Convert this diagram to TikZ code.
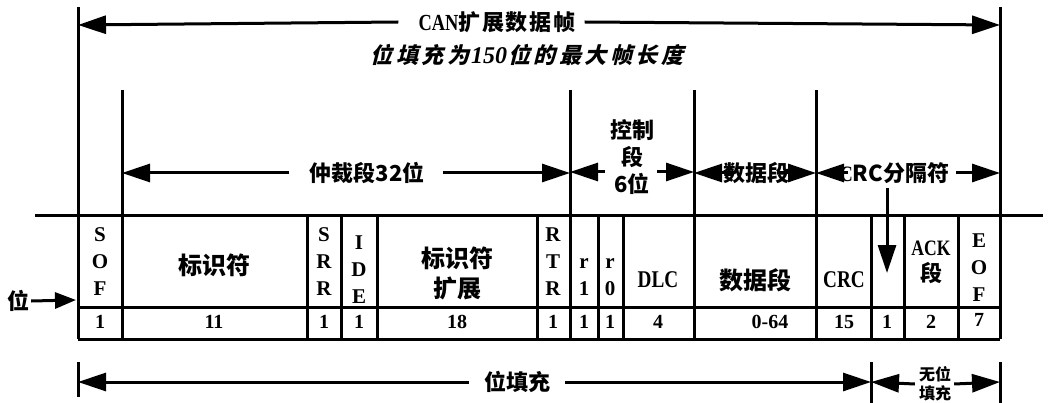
\documentclass[tikz,border=0pt]{standalone}
\usepackage{fontspec}
\setmainfont{Liberation Serif}
\newfontfamily\cjk{Noto Sans CJK SC}
\newfontfamily\cjksl{Noto Sans CJK SC}[FakeSlant=0.25, LetterSpace=16]
\newfontfamily\cjksp{Noto Sans CJK SC}[LetterSpace=8]
\newfontfamily\cond{Liberation Serif}[FakeStretch=0.8]
\usetikzlibrary{arrows.meta}
\tikzset{
  ln/.style={line width=3pt},
  arr/.style={ln, -{Triangle[length=28pt,width=18pt]}},
  smallarr/.style={ln, -{Triangle[length=21pt,width=16pt]}},
  zh/.style={font=\cjk\bfseries\fontsize{22}{27}\selectfont, inner sep=0pt, align=center},
  zhc/.style={font=\cjk\bfseries\fontsize{24}{30}\selectfont, inner sep=0pt, align=center},
  ttl/.style={font=\cjksp\bfseries\fontsize{22}{24}\selectfont, inner sep=0pt},
  sub/.style={font=\cjksl\bfseries\fontsize{22}{24}\selectfont, inner sep=0pt},
  vl/.style={font=\bfseries\fontsize{21}{27}\selectfont, inner sep=0pt, align=center},
  num/.style={font=\bfseries\fontsize{20}{20}\selectfont, inner sep=0pt},
  cd/.style={font=\cond\bfseries\fontsize{24}{24}\selectfont, inner sep=0pt},
  small/.style={font=\cjk\bfseries\fontsize{16}{19}\selectfont, inner sep=0pt, align=center},
}
\begin{document}
\begin{tikzpicture}[x=1pt,y=-1pt]
\useasboundingbox (0,0) rectangle (1048,403);
% ---------- frame lines ----------
\draw[ln] (35,216) -- (1043,216);
\draw[ln] (78,307) -- (1000,307);
\draw[ln] (78,339) -- (1000,339);
\draw[ln] (78,7) -- (78,339);
\draw[ln] (1000,7) -- (1000,339);
\draw[ln] (122,90) -- (122,339);
\foreach \xx in {570,694,816} \draw[ln] (\xx,90) -- (\xx,339);
\foreach \xx in {307,341,377,537,598,623,871,904,958} \draw[ln] (\xx,216) -- (\xx,339);
% ---------- title ----------
\node[ttl] (title) at (497,22) {{\cond\fontsize{23}{24}\selectfont CAN}扩展数据帧};
\node[sub] (subt) at (527,55) {位填充为{\rmfamily\bfseries\itshape\fontsize{24}{24}\selectfont\kern2pt 150\kern1pt}位的最大帧长度};
\coordinate (tl) at (78,25);
\coordinate (tr) at (1000,25);
\draw[arr] ([xshift=-20pt]title.west) -- (tl);
\draw[arr] ([xshift=9pt]title.east) -- (tr);
% ---------- section headers ----------
\node[zh] (arb) at (367,173) {仲裁段32位};
\coordinate (arbl) at (122,173);
\coordinate (arbr) at (570,173);
\draw[arr] ([xshift=-20pt]arb.west) -- (arbl);
\draw[arr] ([xshift=18pt]arb.east) -- (arbr);

\node[zh] (ctl) at (632,157) {控制\\段\\6位};
\coordinate (ctll) at (570,172);
\coordinate (ctlr) at (694,172);
\coordinate (ctla) at (605,172);
\coordinate (ctlb) at (657,172);
\draw[arr] (ctla) -- (ctll);
\draw[arr] (ctlb) -- (ctlr);

\node[zh] (dat) at (756,173) {数据段};
\coordinate (datl) at (694,173);
\coordinate (datr) at (816,173);
\draw[arr] ([xshift=12pt]dat.west) -- (datl);
\draw[arr] ([xshift=-12pt]dat.east) -- (datr);

\node[zh,anchor=west] (crcd) at (840,173) {{\cond C}RC分隔符};
\coordinate (crcl) at (816,173);
\coordinate (crcr) at (1000,173);
\draw[arr] ([xshift=8pt]crcd.west) -- (crcl);
\draw[arr] ([xshift=7pt]crcd.east) -- (crcr);
\coordinate (dtop) at (887,188);
\coordinate (dtip) at (887,273);
\draw[arr] (dtop) -- (dtip);
% ---------- field labels ----------
\node[vl] (sof) at (100,262) {S\\O\\F};
\node[zhc] (id) at (214,265) {标识符};
\node[vl] (srr) at (324,262) {S\\R\\R};
\node[vl] (ide) at (359,270) {I\\D\\E};
\node[zhc] (idx) at (457,273) {标识符\\扩展};
\node[vl] (rtr) at (553,262) {R\\T\\R};
\node[vl] (rone) at (584,277) {r\\1};
\node[vl] (rzero) at (610,277) {r\\0};
\node[cd] (dlc) at (658,280) {DLC};
\node[zhc] (dseg) at (755,280) {数据段};
\node[cd] (crc) at (844,280) {CRC};
\node[font=\cjk\bfseries\fontsize{22}{26}\selectfont, inner sep=0pt, align=center] (ack) at (931,262) {{\cond ACK}\\段};
\node[vl] (eof) at (979,268) {E\\O\\F};
% ---------- bit counts ----------
\node[num] at (100,322) {1};
\node[num] at (214,322) {11};
\node[num] at (324,322) {1};
\node[num] at (359,322) {1};
\node[num] at (457,322) {18};
\node[num] at (553,322) {1};
\node[num] at (584,322) {1};
\node[num] at (610,322) {1};
\node[num] at (658,322) {4};
\node[num] at (770,322) {0-64};
\node[num] at (844,322) {15};
\node[num] at (887,322) {1};
\node[num] at (931,322) {2};
\node[num] at (979,320) {7};
% ---------- input ----------
\node[zh] (wei) at (19,301) {位};
\coordinate (sofin) at (76,300);
\draw[smallarr] ([xshift=1pt]wei.east) -- (sofin);
% ---------- bottom stuffing ----------
\draw[ln] (78,362) -- (78,397);
\draw[ln] (871,362) -- (871,403);
\draw[ln] (1000,362) -- (1000,403);
\node[zh] (stuff) at (517,382) {位填充};
\coordinate (bl) at (78,382);
\coordinate (bm) at (871,382);
\coordinate (br) at (1000,382);
\draw[arr] ([xshift=-15pt]stuff.west) -- (bl);
\draw[arr] ([xshift=15pt]stuff.east) -- (bm);
\node[small] (nostuff) at (935,384) {无位\\填充};
\draw[arr] ([xshift=-4pt]nostuff.west) -- (bm);
\draw[arr] ([xshift=3pt]nostuff.east) -- (br);
\end{tikzpicture}
\end{document}
